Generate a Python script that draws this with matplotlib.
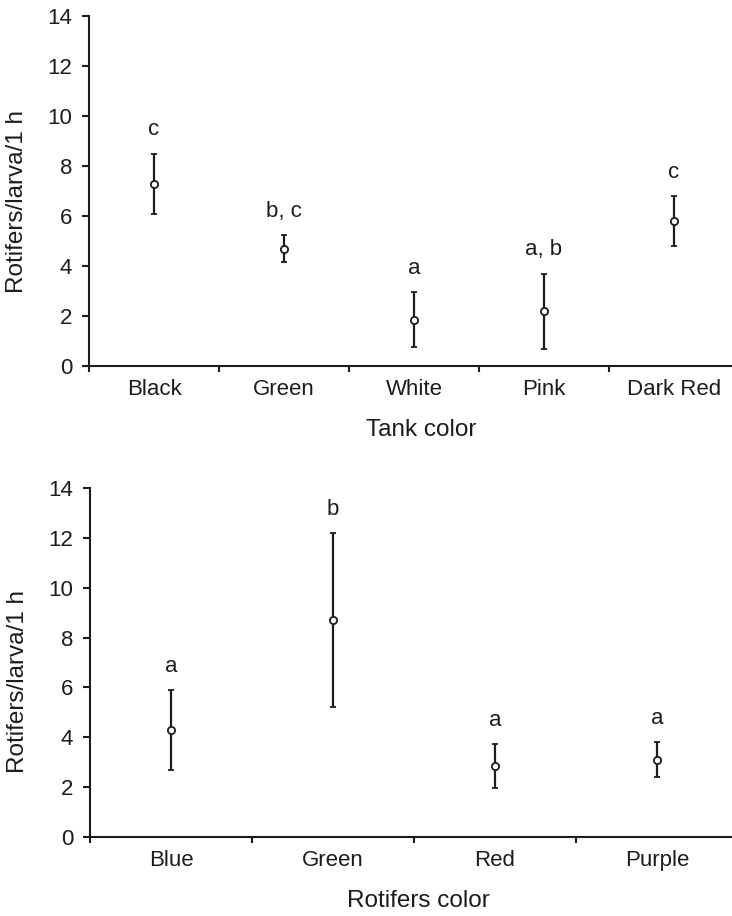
import numpy as np
import matplotlib.pyplot as plt

plt.rcParams['font.family'] = ['Liberation Sans', 'DejaVu Sans']

# Feeding incidence (rotifers eaten per larva in 1 h), mean and error
tank_colors = ["Black", "Green", "White", "Pink", "Dark Red"]
tank_mean = [7.3, 4.7, 1.85, 2.2, 5.8]
tank_err = [1.2, 0.55, 1.1, 1.5, 1.0]
tank_groups = ["c", "b, c", "a", "a, b", "c"]

rotifer_colors = ["Blue", "Green", "Red", "Purple"]
rotifer_mean = [4.3, 8.7, 2.85, 3.1]
rotifer_err = [1.6, 3.5, 0.9, 0.7]
rotifer_groups = ["a", "b", "a", "a"]

ink = "#1c1c1c"


def panel(ax, names, mean, err, groups, xlabel, xmax, ylab_y, xlab_x):
    x = np.arange(len(names)) + 0.5
    mean = np.array(mean)
    err = np.array(err)
    ax.errorbar(x, mean, yerr=err, fmt="o", color=ink, ms=5.2, mfc="white",
                mec=ink, mew=1.3, elinewidth=1.6, capsize=2, capthick=1.6,
                zorder=3)
    for xi, top, g in zip(x, mean + err, groups):
        ax.annotate(g, (xi, top), xytext=(0, 13), textcoords="offset points",
                    ha="center", va="baseline", fontsize=16, color=ink)

    ax.set_xlim(0, xmax)
    ax.set_ylim(0, 14)
    ax.set_yticks(np.arange(0, 15, 2))
    ax.set_xticks(np.arange(0, len(names)))
    ax.set_xticklabels([])
    ax.set_xticks(x, minor=True)
    ax.set_xticklabels(names, minor=True)

    for side in ["top", "right"]:
        ax.spines[side].set_visible(False)
    for side in ["left", "bottom"]:
        ax.spines[side].set_linewidth(1.5)
        ax.spines[side].set_color(ink)

    ax.tick_params(axis="y", direction="out", length=5, width=1.5,
                   pad=7, labelsize=16, colors=ink)
    ax.tick_params(axis="x", which="major", direction="out", length=4,
                   width=1.5, color=ink)
    ax.tick_params(axis="x", which="minor", length=0, pad=9, labelsize=16,
                   labelcolor=ink)

    ax.set_ylabel("Rotifers/larva/1 h", fontsize=17.5, color=ink)
    ax.yaxis.label.set_va("center")
    ax.yaxis.set_label_coords(-0.112, ylab_y)
    ax.set_xlabel(xlabel, fontsize=17.5, color=ink)
    ax.xaxis.label.set_va("center")
    ax.xaxis.set_label_coords(xlab_x, -0.182)


fig = plt.figure(figsize=(7.32, 9.16), dpi=100)
ax1 = fig.add_axes([0.1216, 0.6004, 0.8784, 0.3821])
ax2 = fig.add_axes([0.1230, 0.0862, 0.8770, 0.3810])

panel(ax1, tank_colors, tank_mean, tank_err, tank_groups, "Tank color",
      643 / 130, 0.471, 0.516)
panel(ax2, rotifer_colors, rotifer_mean, rotifer_err, rotifer_groups,
      "Rotifers color", 642 / 162, 0.447, 0.511)

fig.savefig("out.png", dpi=100)
